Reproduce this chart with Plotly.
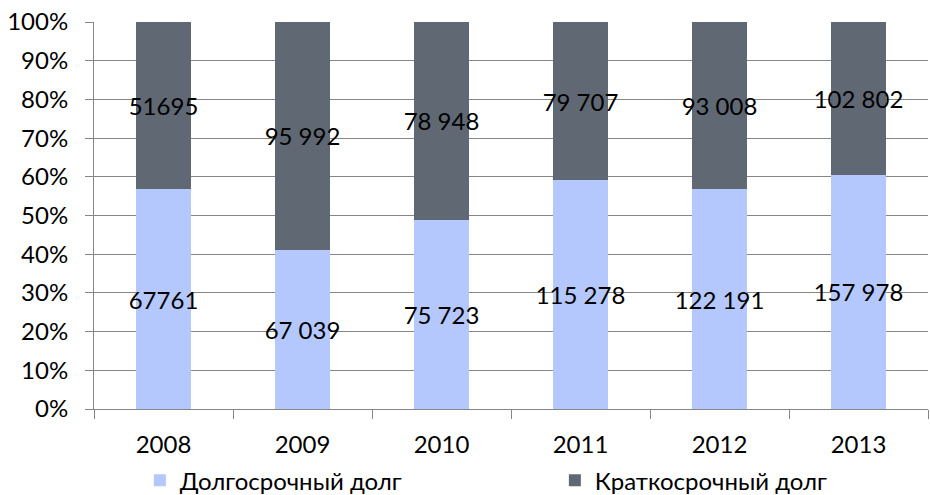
import plotly.graph_objects as go

years = ["2008", "2009", "2010", "2011", "2012", "2013"]
long_term = [67761, 67039, 75723, 115278, 122191, 157978]
short_term = [51695, 95992, 78948, 79707, 93008, 102802]
long_labels = ["67761", "67 039", "75 723", "115 278", "122 191", "157 978"]
short_labels = ["51695", "95 992", "78 948", "79 707", "93 008", "102 802"]
series_names = ["Долгосрочный долг", "Краткосрочный долг"]

FONT = "Lato"
FS = 24

fig = go.Figure()
fig.add_trace(go.Bar(
    x=years, y=long_term, name=series_names[0],
    marker=dict(color="#B4C8FE", line=dict(width=0)),
    text=long_labels, textposition="inside", insidetextanchor="middle",
    textangle=0, constraintext="none",
    textfont=dict(family=FONT, size=FS, color="black"),
    hoverinfo="x+y+name",
))
fig.add_trace(go.Bar(
    x=years, y=short_term, name=series_names[1],
    marker=dict(color="#5F6873", line=dict(width=0)),
    text=short_labels, textposition="inside", insidetextanchor="middle",
    textangle=0, constraintext="none",
    textfont=dict(family=FONT, size=FS, color="black"),
    hoverinfo="x+y+name",
))

fig.update_layout(
    width=930, height=495,
    barmode="stack", barnorm="percent", bargap=0.6,
    margin=dict(l=94, r=2, t=22, b=86, autoexpand=False),
    paper_bgcolor="white", plot_bgcolor="white",
    font=dict(family=FONT, size=FS, color="black"),
    uniformtext=dict(mode="show", minsize=FS),
    showlegend=True,
    legend=dict(
        orientation="h", x=0.055, xanchor="left", y=-0.185, yanchor="middle",
        font=dict(family=FONT, size=FS, color="black"),
        entrywidth=370, entrywidthmode="pixels",
        itemwidth=30,
        traceorder="normal", bgcolor="rgba(0,0,0,0)",
    ),
)
fig.update_xaxes(
    showline=True, linecolor="#868686", linewidth=1,
    ticks="outside", tickson="boundaries", ticklen=9, tickcolor="#868686",
    showgrid=False, ticklabelstandoff=14,
    tickfont=dict(family=FONT, size=FS, color="black"),
)
fig.update_yaxes(
    range=[0, 100], dtick=10, ticksuffix="%",
    showline=True, linecolor="#868686", linewidth=1,
    ticks="outside", ticklen=8, tickcolor="#868686",
    showgrid=True, gridcolor="#868686", gridwidth=1,
    zeroline=False, ticklabelstandoff=12, ticklabeloverflow="allow",
    tickfont=dict(family=FONT, size=FS, color="black"),
)

fig.write_html(
    "out.html",
    config={"displayModeBar": False},
    post_script="document.body.style.margin='0';",
)
